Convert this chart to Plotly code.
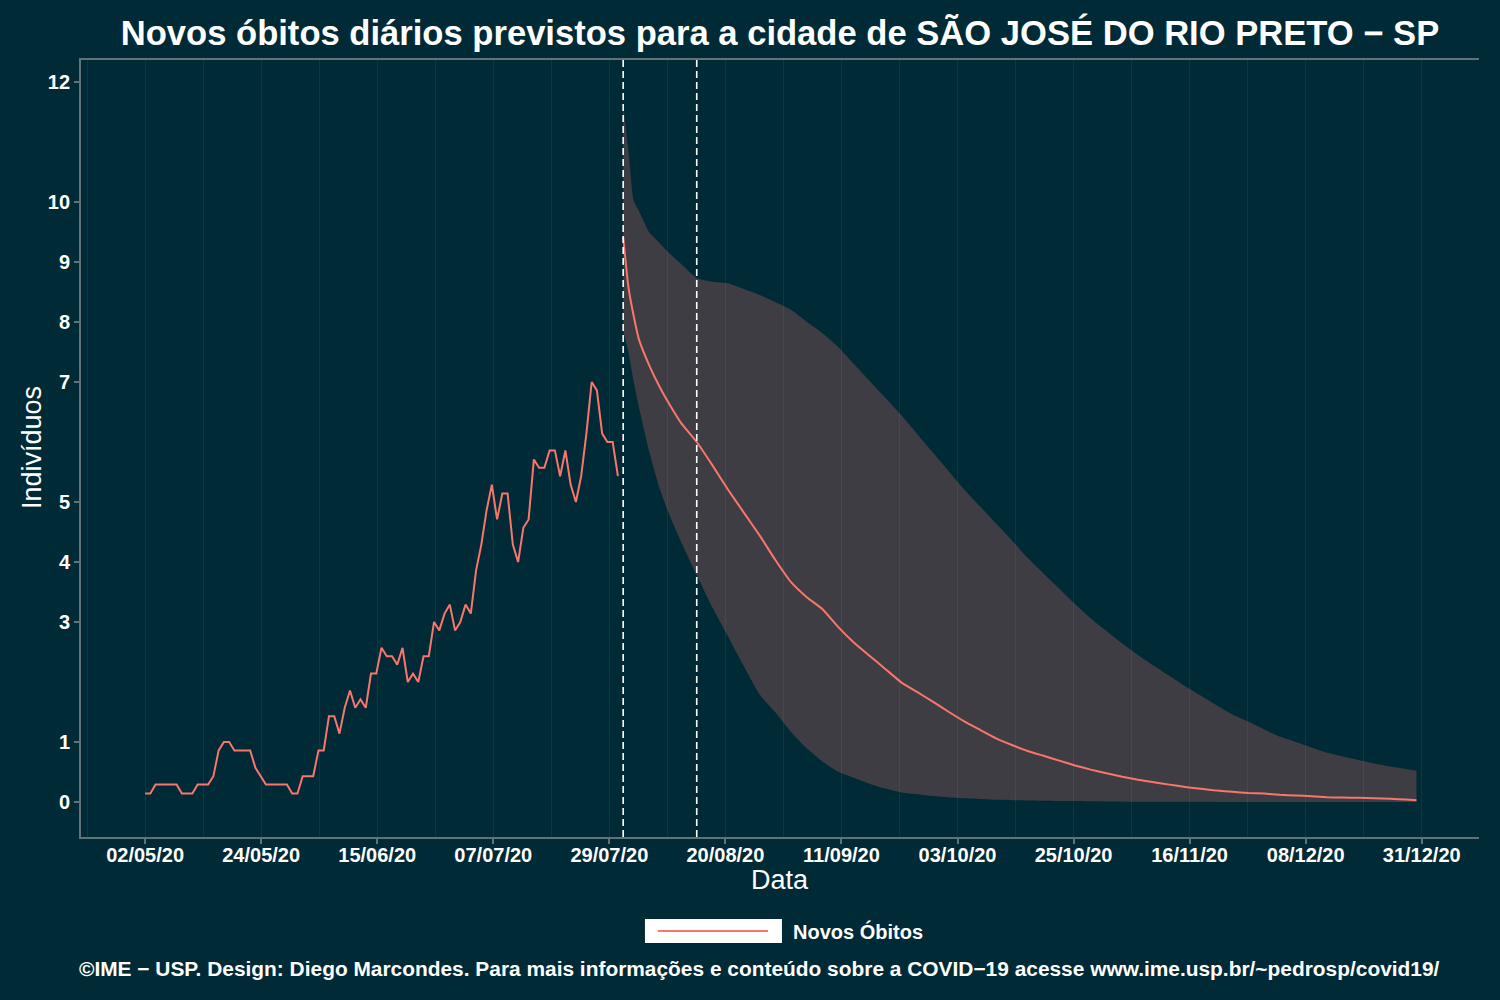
import pandas as pd
import plotly.graph_objects as go

# ---------------- data ----------------
obs_start = "2020-05-02"
obs_values = [0.14, 0.14, 0.29, 0.29, 0.29, 0.29, 0.29, 0.14, 0.14, 0.14,
              0.29, 0.29, 0.29, 0.43, 0.86, 1.0, 1.0, 0.86, 0.86, 0.86,
              0.86, 0.57, 0.43, 0.29, 0.29, 0.29, 0.29, 0.29, 0.14, 0.14,
              0.43, 0.43, 0.43, 0.86, 0.86, 1.43, 1.43, 1.14, 1.57, 1.86,
              1.57, 1.71, 1.57, 2.14, 2.14, 2.57, 2.43, 2.43, 2.29, 2.57,
              2.0, 2.14, 2.0, 2.43, 2.43, 3.0, 2.86, 3.14, 3.29, 2.86,
              3.0, 3.29, 3.14, 3.86, 4.29, 4.86, 5.29, 4.71, 5.14, 5.14,
              4.29, 4.0, 4.57, 4.71, 5.71, 5.57, 5.57, 5.86, 5.86, 5.43,
              5.86, 5.29, 5.0, 5.43, 6.14, 7.0, 6.86, 6.14, 6.0, 6.0,
              5.43]

pred_dates = ["2020-08-01", "2020-08-02", "2020-08-03", "2020-08-04", "2020-08-06",
              "2020-08-08", "2020-08-10", "2020-08-12", "2020-08-15", "2020-08-18",
              "2020-08-21", "2020-08-24", "2020-08-27", "2020-08-30", "2020-09-02",
              "2020-09-05", "2020-09-08", "2020-09-11", "2020-09-14", "2020-09-17",
              "2020-09-20", "2020-09-23", "2020-09-26", "2020-09-29", "2020-10-02",
              "2020-10-05", "2020-10-08", "2020-10-11", "2020-10-14", "2020-10-17",
              "2020-10-20", "2020-10-23", "2020-10-26", "2020-10-29", "2020-11-01",
              "2020-11-04", "2020-11-07", "2020-11-10", "2020-11-13", "2020-11-16",
              "2020-11-19", "2020-11-22", "2020-11-25", "2020-11-28", "2020-12-01",
              "2020-12-04", "2020-12-07", "2020-12-10", "2020-12-13", "2020-12-16",
              "2020-12-19", "2020-12-22", "2020-12-25", "2020-12-28", "2020-12-30"]
pred_mean = [9.42, 8.58, 8.10, 7.71, 7.27, 6.91, 6.60, 6.32, 6.00, 5.61,
             5.20, 4.82, 4.44, 4.03, 3.66, 3.41, 3.21, 2.91, 2.65, 2.43,
             2.21, 1.99, 1.83, 1.67, 1.50, 1.34, 1.20, 1.06, 0.95, 0.85,
             0.77, 0.69, 0.61, 0.54, 0.48, 0.42, 0.37, 0.33, 0.29, 0.25,
             0.22, 0.19, 0.17, 0.15, 0.14, 0.12, 0.11, 0.095, 0.08, 0.075,
             0.07, 0.062, 0.055, 0.04, 0.03]
pred_upper = [11.63, 10.85, 10.02, 9.85, 9.49, 9.31, 9.13, 8.97, 8.73, 8.67,
              8.64, 8.55, 8.45, 8.33, 8.20, 8.00, 7.81, 7.58, 7.29, 7.01,
              6.73, 6.44, 6.13, 5.82, 5.51, 5.20, 4.92, 4.64, 4.36, 4.07,
              3.81, 3.56, 3.30, 3.06, 2.85, 2.64, 2.45, 2.27, 2.10, 1.93,
              1.77, 1.61, 1.46, 1.34, 1.21, 1.09, 1.00, 0.91, 0.82, 0.76,
              0.70, 0.64, 0.59, 0.55, 0.52]
pred_lower = [7.85, 7.50, 7.01, 6.58, 5.83, 5.21, 4.74, 4.34, 3.78, 3.24,
              2.75, 2.26, 1.79, 1.49, 1.16, 0.89, 0.67, 0.50, 0.40, 0.30,
              0.22, 0.16, 0.13, 0.10, 0.077, 0.063, 0.05, 0.036, 0.03, 0.026,
              0.022, 0.018, 0.015, 0.011, 0.008, 0.006, 0.005, 0.004, 0.004, 0.003,
              0.003, 0.002, 0.002, 0.002, 0.002, 0.002, 0.002, 0.002, 0.002, 0.002,
              0.002, 0.002, 0.002, 0.002, 0.002]

cut_dates = ["2020-08-01", "2020-08-15"]

x_tick_labels = ["02/05/20", "24/05/20", "15/06/20", "07/07/20", "29/07/20", "20/08/20",
                 "11/09/20", "03/10/20", "25/10/20", "16/11/20", "08/12/20", "31/12/20"]
y_tick_vals = [0, 1, 3, 4, 5, 7, 8, 9, 10, 12]

# ---------------- styling ----------------
BG = "#002a36"
GRID = "#0c3843"
AXIS = "#5f7378"
RED = "#F8766D"
FONT = "Liberation Sans"

obs_dates = pd.date_range(obs_start, periods=len(obs_values), freq="D")

# tick positions: evenly spaced between first and last label (like R's seq)
first = pd.to_datetime(x_tick_labels[0], format="%d/%m/%y")
last = pd.to_datetime(x_tick_labels[-1], format="%d/%m/%y")
n = len(x_tick_labels)
step = (last - first) / (n - 1)
tick_vals = [first + step * k for k in range(n)]
minor_vals = [first + step * (k - 0.5) for k in range(n)]

fig = go.Figure()
fig.add_trace(go.Scatter(x=pred_dates, y=pred_upper, mode="lines",
                         line=dict(width=0, color=RED, shape="spline", smoothing=0.5),
                         showlegend=False, hoverinfo="skip"))
fig.add_trace(go.Scatter(x=pred_dates, y=pred_lower, mode="lines", fill="tonexty",
                         fillcolor="rgba(248,118,109,0.25)",
                         line=dict(width=0, color=RED, shape="spline", smoothing=0.5),
                         showlegend=False, hoverinfo="skip"))
fig.add_trace(go.Scatter(x=obs_dates, y=obs_values, mode="lines",
                         line=dict(color=RED, width=2), name="Novos Óbitos", showlegend=False))
fig.add_trace(go.Scatter(x=pred_dates, y=pred_mean, mode="lines",
                         line=dict(color=RED, width=2, shape="spline", smoothing=0.4),
                         name="Novos Óbitos", showlegend=False))

for d in cut_dates:
    fig.add_shape(type="line", xref="x", yref="paper", x0=d, x1=d, y0=0, y1=1,
                  line=dict(color="white", width=1.6, dash="7px,4px"), layer="above")

# axes
x_start = first - pd.Timedelta(days=12.2)
x_end = first + pd.Timedelta(days=253.9)
fig.update_xaxes(
    type="date", range=[x_start, x_end],
    tickmode="array", tickvals=tick_vals, ticktext=x_tick_labels,
    tickfont=dict(family=FONT, size=20, color="white", weight="bold"),
    ticks="outside", ticklen=5, tickwidth=1.5, tickcolor=AXIS, ticklabelstandoff=-6,
    showline=True, linecolor=AXIS, linewidth=1.8, mirror=True,
    showgrid=True, gridcolor=GRID, gridwidth=1,
    minor=dict(tickmode="array", tickvals=minor_vals, showgrid=True,
               gridcolor=GRID, gridwidth=1, ticks=""),
    zeroline=False,
)
fig.update_yaxes(
    range=[-0.583, 12.367], tickmode="array", tickvals=y_tick_vals,
    ticktext=[str(v) for v in y_tick_vals],
    tickfont=dict(family=FONT, size=20, color="white", weight="bold"),
    ticks="outside", ticklen=5, tickwidth=1.5, tickcolor=AXIS,
    showline=True, linecolor=AXIS, linewidth=1.8, mirror=False,
    showgrid=False, zeroline=False,
)

# axis titles
fig.add_annotation(xref="paper", yref="paper", x=0.5, y=-0.0553, xanchor="center",
                   yanchor="middle", showarrow=False, text="Data",
                   font=dict(family=FONT, size=27, color="white"))
fig.add_annotation(xref="paper", yref="paper", x=-0.035, y=0.5006, xanchor="center",
                   yanchor="middle", showarrow=False, text="Indivíduos", textangle=-90,
                   font=dict(family=FONT, size=27, color="white"))

# manual legend (white key box with red line)
fig.add_shape(type="rect", xref="paper", yref="paper", x0=0.4034, x1=0.5014,
              y0=-0.1364, y1=-0.1055, fillcolor="white", line=dict(width=0), layer="above")
fig.add_shape(type="line", xref="paper", yref="paper", x0=0.4127, x1=0.4914,
              y0=-0.1210, y1=-0.1210, line=dict(color=RED, width=2), layer="above")
fig.add_annotation(xref="paper", yref="paper", x=0.5079, y=-0.1210, xanchor="left",
                   yanchor="middle", showarrow=False, text="Novos Óbitos",
                   font=dict(family=FONT, size=20, color="white", weight="bold"))

fig.add_annotation(xref="paper", yref="paper", x=0.485, y=-0.1686, xanchor="center",
                   yanchor="middle", showarrow=False,
                   text="©IME − USP. Design: Diego Marcondes. Para mais informações e conteúdo sobre a COVID−19 acesse www.ime.usp.br/~pedrosp/covid19/",
                   font=dict(family=FONT, size=20.9, color="white", weight="bold"))

fig.update_layout(
    width=1500, height=1000,
    paper_bgcolor=BG, plot_bgcolor=BG,
    margin=dict(l=81, r=21, t=60, b=163, autoexpand=False),
    title=dict(text="Novos óbitos diários previstos para a cidade de SÃO JOSÉ DO RIO PRETO − SP",
               x=0.5, xref="paper", xanchor="center", y=0.967, yref="container", yanchor="middle",
               font=dict(family=FONT, size=34.6, color="white", weight="bold")),
    showlegend=False,
)

fig.write_html("out.html", config={"displayModeBar": False},
               post_script="document.body.style.margin='0px';")
